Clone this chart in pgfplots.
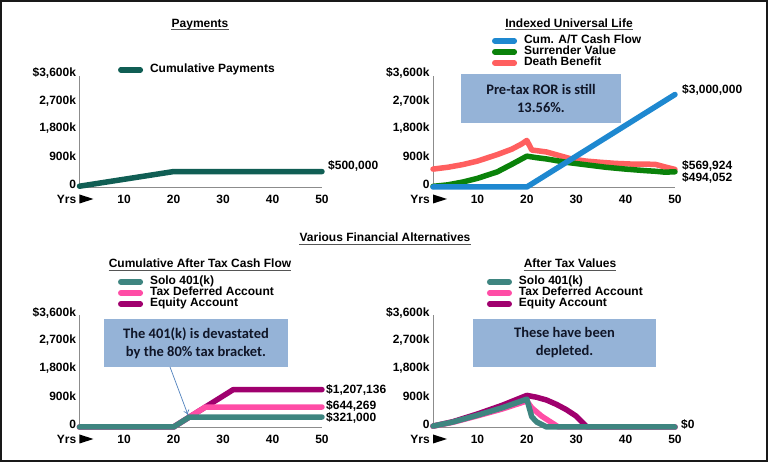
\documentclass[border=0pt]{standalone}
\usepackage{fontspec}
\setmainfont{Liberation Sans}
\newfontfamily\boxfont{Carlito}
\usepackage{pgfplots}
\pgfplotsset{compat=1.18}
\usetikzlibrary{arrows.meta}

\definecolor{payteal}{RGB}{16,94,84}
\definecolor{cumblue}{RGB}{30,136,208}
\definecolor{svgreen}{RGB}{10,130,10}
\definecolor{dbred}{RGB}{255,95,95}
\definecolor{solo}{RGB}{62,133,128}
\definecolor{taxpink}{RGB}{255,77,166}
\definecolor{equity}{RGB}{160,0,110}
\definecolor{boxfill}{RGB}{149,179,215}
\definecolor{axgray}{RGB}{140,140,140}
\definecolor{ulgray}{RGB}{85,85,85}
\definecolor{boxtext}{RGB}{16,22,40}
\definecolor{arrowblue}{RGB}{79,129,189}

\newcommand{\lbl}{\bfseries\fontsize{12}{12}\selectfont}

% one chart panel
\pgfplotsset{
  panel/.style={
    scale only axis, anchor=south west,
    width=242pt, height=111pt,
    xmin=1, xmax=50, ymin=0, ymax=3600000,
    axis lines=left,
    axis line style={-, draw=axgray, line width=0.8pt},
    xtick={10,20,30,40,50}, xticklabels={10,20,30,40,50},
    ytick={0,900000,1800000,2700000,3600000},
    yticklabels={0,900k,{1,800k},{2,700k},{\$3,600k}},
    scaled ticks=false, major tick length=0pt,
    /pgf/number format/assume math mode=true,
    tick label style={font=\lbl},
    xticklabel style={anchor=center, yshift=-12pt},
    yticklabel style={yshift=3pt},
    clip=false,
    every axis plot/.append style={line width=5.5pt, line cap=round, line join=round},
    legend image code/.code={\draw[##1] (2.75pt,0pt) -- (22.25pt,0pt);
      \path[draw=none,fill=none] (0pt,0pt) -- (32pt,0pt);},
    legend style={draw=none, fill=none, inner sep=0pt, outer sep=0pt,
      anchor=north west, font=\lbl, row sep=0pt, column sep=0pt,
      nodes={inner sep=0pt, text height=8.5pt, text depth=2.5pt},
      cells={anchor=west}},
  },
}

\newcommand{\yrs}{%
  \node[anchor=east, font=\lbl, inner sep=0pt] at ([xshift=-3pt,yshift=-12pt]rel axis cs:0,0) {Yrs};
  \fill[black] ([yshift=-12pt]rel axis cs:0,0) ++(0pt,4.5pt) -- ++(14pt,-4.5pt) -- ++(-14pt,-4.5pt) -- cycle;
}

\newcommand{\ttl}[3]{%
  \node[font=\lbl, anchor=base, inner sep=0pt] (t) at (#1,#2) {#3};
  \draw[ulgray, line width=1.3pt] ([yshift=-2.3pt]t.base west) -- ([yshift=-2.3pt]t.base east);
}

\begin{document}
\begin{tikzpicture}
\useasboundingbox (0pt,0pt) rectangle (769pt,462pt);
\fill[white] (0pt,0pt) rectangle (769pt,462pt);
\draw[black!90, line width=2pt] (1pt,1pt) rectangle (767pt,461pt);

% ---------- Payments ----------
\begin{axis}[panel, at={(79.5pt,275pt)}, width=242.5pt,
  legend style={at={(0.159,1.105)}}]
\addplot[payteal] coordinates {(1,25000) (20,500000) (50,500000)};
\addlegendentry{Cumulative Payments}
\yrs
\end{axis}

% ---------- Indexed Universal Life ----------
\begin{axis}[panel, at={(433pt,275pt)}, reverse legend,
  legend style={at={(0.244,1.365)}}]
\addplot[dbred] coordinates {(1,580000) (4,640000) (7,726000) (10,840000) (14,1050000)
  (17,1230000) (19,1400000) (20,1510000) (21,1200000) (24,1135000) (27,1000000)
  (29,910000) (32,840000) (35,800000) (38,765000) (41,745000) (44,740000) (46,735000)
  (48,650000) (50,569924)};
\addplot[svgreen] coordinates {(1,20000) (4,70000) (7,160000) (10,280000) (14,490000)
  (17,740000) (20,1000000) (22,950000) (24,910000) (28,800000) (32,720000) (36,640000)
  (40,580000) (44,530000) (46,510000) (48,480000) (50,494052)};
\addplot[cumblue] coordinates {(1,0) (20,0) (50,3000000)};
\addlegendentry{Death Benefit}
\addlegendentry{Surrender Value}
\addlegendentry{Cum. A/T Cash Flow}
\yrs
\end{axis}

% ---------- Cumulative After Tax Cash Flow ----------
\begin{axis}[panel, at={(79.5pt,35pt)}, width=242.5pt, height=111.5pt, reverse legend,
  legend style={at={(0.159,1.35)}}]
\addplot[equity] coordinates {(1,0) (20,0) (32.07,1207136) (50,1207136)};
\addplot[taxpink] coordinates {(1,0) (20,0) (26.44,644269) (50,644269)};
\addplot[solo] coordinates {(1,0) (20,0) (23.2,321000) (50,321000)};
\addlegendentry{Equity Account}
\addlegendentry{Tax Deferred Account}
\addlegendentry{Solo 401(k)}
\yrs
\end{axis}

% ---------- After Tax Values ----------
\begin{axis}[panel, at={(433pt,35pt)}, height=111.5pt, reverse legend,
  legend style={at={(0.223,1.35)}}]
\addplot[equity] coordinates {(1,30000) (5,170000) (10,420000) (15,700000) (20,1020000)
  (22,960000) (24,870000) (26,730000) (28,560000) (30,350000) (32.2,0) (50,0)};
\addplot[taxpink] coordinates {(1,25000) (5,150000) (10,360000) (15,580000) (20,840000)
  (21,620000) (23,350000) (26.4,0) (50,0)};
\addplot[solo] coordinates {(1,30000) (5,160000) (10,380000) (15,620000) (20,900000)
  (21,330000) (22,160000) (24,0) (50,0)};
\addlegendentry{Equity Account}
\addlegendentry{Tax Deferred Account}
\addlegendentry{Solo 401(k)}
\yrs
\end{axis}

% ---------- titles ----------
\ttl{200pt}{434.5pt}{Payments}
\ttl{569pt}{434.5pt}{Indexed Universal Life}
\ttl{385pt}{220pt}{Various Financial Alternatives}
\ttl{200pt}{194pt}{Cumulative After Tax Cash Flow}
\ttl{570pt}{194pt}{After Tax Values}

% ---------- end-of-line value labels ----------
\begin{scope}[every node/.style={font=\lbl, anchor=west, inner sep=0pt}]
\node at (328pt,296pt) {\$500,000};
\node at (682pt,372pt) {\$3,000,000};
\node at (682pt,296pt) {\$569,924};
\node at (682pt,284pt) {\$494,052};
\node at (326pt,72pt) {\$1,207,136};
\node at (326pt,56.3pt) {\$644,269};
\node at (326pt,43.7pt) {\$321,000};
\node at (681pt,38pt) {\$0};
\end{scope}

% ---------- callout boxes ----------
\begin{scope}[every node/.style={font=\boxfont\bfseries\fontsize{14.5}{18}\selectfont,
    text=boxtext, align=center, inner sep=0pt}]
\fill[boxfill] (461pt,388pt) rectangle (621pt,339pt);
\node at (541pt,363.5pt) {Pre-tax ROR is still\\13.56\%.};
\fill[boxfill] (104pt,143pt) rectangle (288pt,95pt);
\node at (196pt,119pt) {The 401(k) is devastated\\by the 80\% tax bracket.};
\fill[boxfill] (473pt,143pt) rectangle (656pt,95pt);
\node at (564.5pt,119pt) {These have been\\depleted.};
\end{scope}
\draw[arrowblue, line width=0.7pt, -{To[length=5pt,width=6pt]}]
  (170pt,95pt) -- (188pt,47pt);

\end{tikzpicture}
\end{document}
